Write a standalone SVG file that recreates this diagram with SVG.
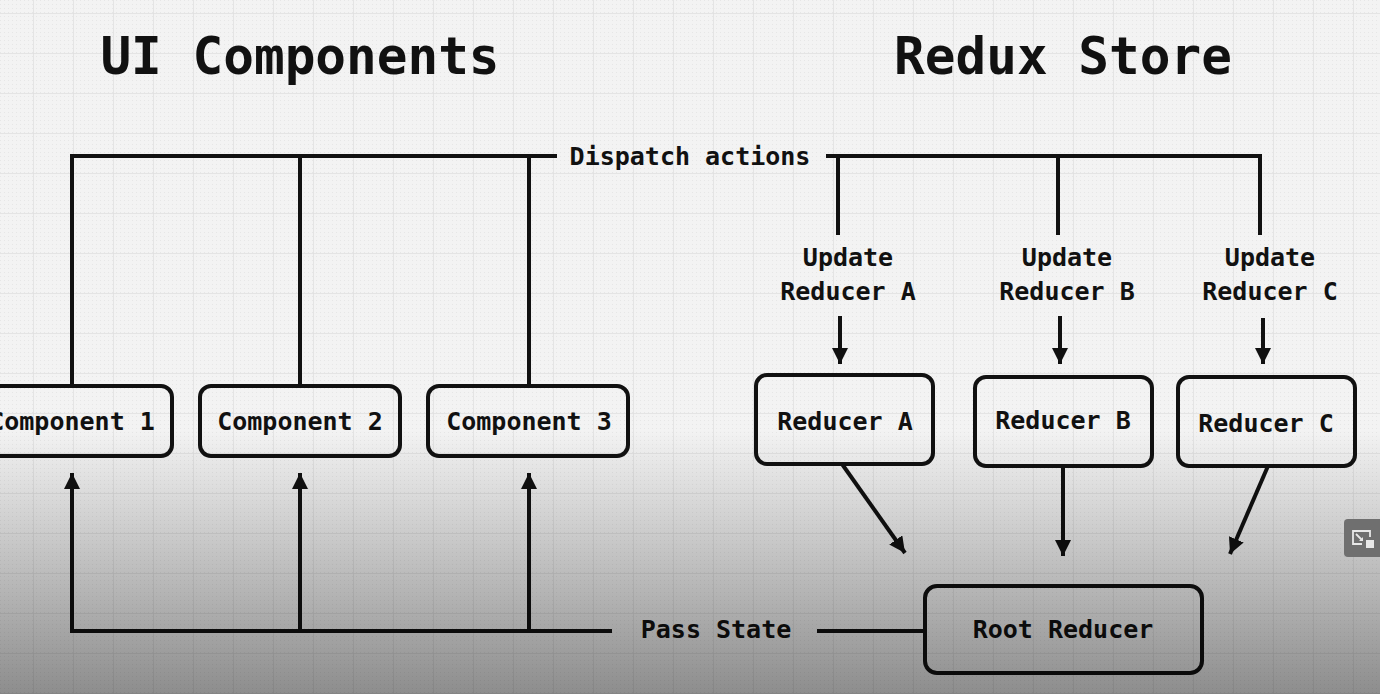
<svg xmlns="http://www.w3.org/2000/svg" width="1380" height="694" viewBox="0 0 1380 694">
<defs>
<style>
.t{font-family:"DejaVu Sans Mono","Liberation Mono",monospace;font-weight:bold;fill:#111;text-anchor:middle}
.lbl{font-size:25px}
.title{font-size:51px}
.ln{fill:none;stroke:#111;stroke-width:4}
.box{fill:none;stroke:#111;stroke-width:4}
</style>
<pattern id="grid" x="33" y="13" width="40" height="40" patternUnits="userSpaceOnUse">
<path d="M0 0H40M0 0V40" fill="none" stroke="#e0e0e0" stroke-width="1.5"/>
</pattern>
<pattern id="dots" x="0" y="0" width="4" height="4" patternUnits="userSpaceOnUse">
<rect x="0" y="0" width="1" height="1" fill="#e6e6e6"/>
</pattern>
<linearGradient id="shade" x1="0" y1="0" x2="0" y2="1">
<stop offset="0" stop-color="#000" stop-opacity="0"/>
<stop offset="1" stop-color="#000" stop-opacity="0.42"/>
</linearGradient>
<marker id="ah" viewBox="0 0 10 10" refX="10" refY="5" markerWidth="4" markerHeight="4" markerUnits="strokeWidth" orient="auto">
<path d="M0 0L10 5L0 10Z" fill="#111"/>
</marker>
</defs>
<rect width="1380" height="694" fill="#f3f3f3"/>
<rect width="1380" height="694" fill="url(#dots)"/>
<rect width="1380" height="694" fill="url(#grid)"/>

<g id="titles">
<text class="t title" x="300" y="74">UI Components</text>
<text class="t title" x="1063" y="74">Redux Store</text>
</g>

<g id="connectors">
<path class="ln" d="M72 385V156H557"/>
<path class="ln" d="M300 156V385M529 156V385"/>
<path class="ln" d="M826 156H1260V235M838 156V235M1058 156V235"/>
<text class="t lbl" x="690" y="165">Dispatch actions</text>
<path class="ln" d="M840 316V364" marker-end="url(#ah)"/>
<path class="ln" d="M1060 316V364" marker-end="url(#ah)"/>
<path class="ln" d="M1263 318V364" marker-end="url(#ah)"/>
<path class="ln" d="M842 464L905 553" marker-end="url(#ah)"/>
<path class="ln" d="M1063 466V556" marker-end="url(#ah)"/>
<path class="ln" d="M1268 466L1230 554" marker-end="url(#ah)"/>
<path class="ln" d="M612 631H72V473M300 631V473M529 631V473"/>
<path class="ln" d="M72 631V473" marker-end="url(#ah)"/>
<path class="ln" d="M300 631V473" marker-end="url(#ah)"/>
<path class="ln" d="M529 631V473" marker-end="url(#ah)"/>
<path class="ln" d="M817 631H925"/>
<text class="t lbl" x="716" y="638">Pass State</text>
</g>

<g id="update-a">
<text class="t lbl" x="848" y="266">Update</text>
<text class="t lbl" x="848" y="300">Reducer A</text>
</g>
<g id="update-b">
<text class="t lbl" x="1067" y="266">Update</text>
<text class="t lbl" x="1067" y="300">Reducer B</text>
</g>
<g id="update-c">
<text class="t lbl" x="1270" y="266">Update</text>
<text class="t lbl" x="1270" y="300">Reducer C</text>
</g>

<g id="component-1">
<rect class="box" x="-12" y="386" width="184" height="70" rx="11"/>
<text class="t lbl" x="72" y="430">Component 1</text>
</g>
<g id="component-2">
<rect class="box" x="200" y="386" width="200" height="70" rx="11"/>
<text class="t lbl" x="300" y="430">Component 2</text>
</g>
<g id="component-3">
<rect class="box" x="428" y="386" width="200" height="70" rx="11"/>
<text class="t lbl" x="529" y="430">Component 3</text>
</g>

<g id="reducer-a">
<rect class="box" x="756" y="375" width="177" height="89" rx="11"/>
<text class="t lbl" x="845" y="430">Reducer A</text>
</g>
<g id="reducer-b">
<rect class="box" x="975" y="377" width="177" height="89" rx="11"/>
<text class="t lbl" x="1063" y="429">Reducer B</text>
</g>
<g id="reducer-c">
<rect class="box" x="1178" y="377" width="177" height="89" rx="11"/>
<text class="t lbl" x="1266" y="432">Reducer C</text>
</g>
<g id="root-reducer">
<rect class="box" x="925" y="586" width="277" height="87" rx="12"/>
<text class="t lbl" x="1063" y="638">Root Reducer</text>
</g>

<rect x="0" y="430" width="1380" height="264" fill="url(#shade)"/>

<g id="corner-icon">
<rect x="1344" y="519" width="44" height="38" rx="4" fill="#6f6f6f"/>
<path d="M1362 544h-9v-13h17v6" fill="none" stroke="#e8e8e8" stroke-width="1.8"/>
<path d="M1356 534l6 6" stroke="#e8e8e8" stroke-width="1.8"/>
<path d="M1363 541l-4 0 4-4z" fill="#e8e8e8"/>
<rect x="1366" y="540" width="8" height="8" fill="#e8e8e8"/>
</g>
</svg>
